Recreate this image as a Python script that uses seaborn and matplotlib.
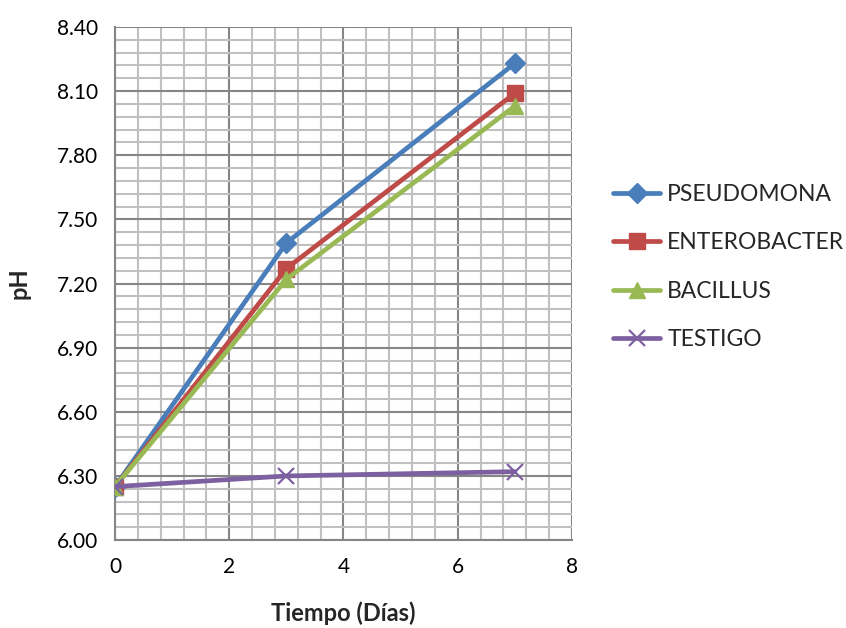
import numpy as np
import pandas as pd
import matplotlib
matplotlib.use("Agg")
import matplotlib.pyplot as plt
import seaborn as sns
from matplotlib.ticker import MultipleLocator, FormatStrFormatter

dias = [0, 3, 7]
pseudomona = [6.25, 7.39, 8.23]
enterobacter = [6.25, 7.27, 8.09]
bacillus = [6.25, 7.22, 8.03]
testigo = [6.25, 6.30, 6.32]
series_names = ["PSEUDOMONA", "ENTEROBACTER", "BACILLUS", "TESTIGO"]

colors = ["#4a7ebb", "#be4b48", "#98b954", "#7d60a0"]
markers = ["D", "s", "^", "x"]
msizes = [10, 12, 12, 12]

sns.set_style("white")
plt.rcParams['font.family'] = ['Lato', 'DejaVu Sans']

df = pd.DataFrame({
    "Tiempo": dias * 4,
    "pH": pseudomona + enterobacter + bacillus + testigo,
    "Serie": sum([[n] * len(dias) for n in series_names], []),
})

fig = plt.figure(figsize=(8.46, 6.28), dpi=100)
ax = fig.add_axes([0.136, 0.140, 0.540, 0.817])

for i, name in enumerate(series_names):
    sub = df[df["Serie"] == name]
    sns.lineplot(data=sub, x="Tiempo", y="pH", ax=ax, color=colors[i],
                 marker=markers[i], markersize=msizes[i], linewidth=3.4,
                 markeredgecolor=colors[i], markeredgewidth=1.6 if markers[i] == "x" else 1,
                 label=name, zorder=3 + i)

ax.set_xlim(0, 8)
ax.set_ylim(6.0, 8.4)
ax.xaxis.set_major_locator(MultipleLocator(2))
ax.xaxis.set_minor_locator(MultipleLocator(0.4))
ax.yaxis.set_major_locator(MultipleLocator(0.3))
ax.yaxis.set_minor_locator(MultipleLocator(0.06))
ax.yaxis.set_major_formatter(FormatStrFormatter("%.2f"))

ax.grid(which="minor", color="#c0c0c0", linewidth=1.5, zorder=0)
ax.grid(which="major", color="#868686", linewidth=1.5, zorder=1)
ax.set_axisbelow(True)

for s in ["top", "right"]:
    ax.spines[s].set_visible(False)
for s in ["left", "bottom"]:
    ax.spines[s].set_color("#868686")
    ax.spines[s].set_linewidth(1.5)

ax.tick_params(axis="both", which="major", direction="out", length=6, width=1.5,
               color="#868686", labelsize=15, labelcolor="black", pad=6)
ax.tick_params(axis="both", which="minor", length=0)

ax.set_xlabel("Tiempo (Días)", fontsize=17, fontweight="bold", labelpad=18)
ax.set_ylabel("pH", fontsize=17, fontweight="bold", labelpad=19)

leg = ax.legend(loc="center left", bbox_to_anchor=(0.717, 0.575), bbox_transform=fig.transFigure,
                frameon=False, fontsize=16.5, handlelength=2.05, handletextpad=0.3,
                labelspacing=1.2, borderaxespad=0, borderpad=0.3)

fig.savefig("out.png", dpi=100)
